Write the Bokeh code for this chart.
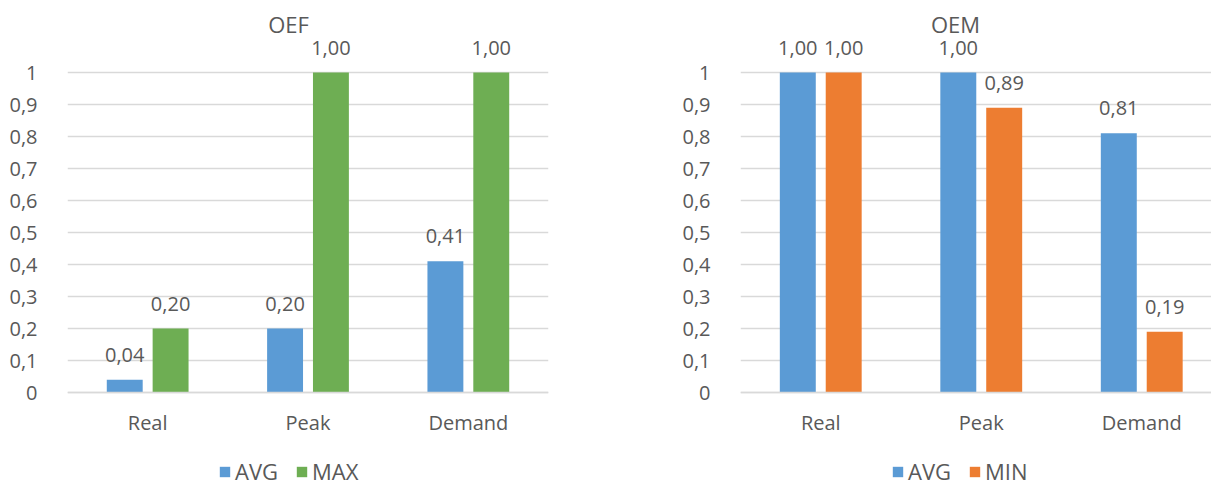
from bokeh.plotting import figure
from bokeh.layouts import row
from bokeh.models import Range1d, FixedTicker, Legend, LegendItem, Label
from bokeh.embed import file_html
from bokeh.resources import INLINE
from bokeh.core.properties import value

# Data
categories = ["Real", "Peak", "Demand"]
y_ticks = [0, 0.1, 0.2, 0.3, 0.4, 0.5, 0.6, 0.7, 0.8, 0.9, 1]

oef_title = "OEF"
oef_series = ["AVG", "MAX"]
oef_avg = [0.04, 0.20, 0.41]
oef_max = [0.20, 1.00, 1.00]

oem_title = "OEM"
oem_series = ["AVG", "MIN"]
oem_avg = [1.00, 1.00, 0.81]
oem_min = [1.00, 0.89, 0.19]

# Style
FONT = "Open Sans"
GREY = "#595959"
GRID = "#D9D9D9"
BLUE = "#5B9BD5"
GREEN = "#6EAE53"
ORANGE = "#ED7D31"

HEIGHT = 486
ZERO_Y = 392        # pixel row of the value 0
ONE_Y = 72          # pixel row of the value 1
BAR_W = 0.224
OFFSET = 0.143


def fmt(v):
    return f"{v:.2f}".replace(".", ",")


def tick_text(t):
    return f"{t:g}".replace(".", ",")


def make_chart(title, names, series, colors, width, border_left, border_right,
               x_end, title_x, legend_x):
    px_per_unit = ZERO_Y - ONE_Y
    y_end = 1 + ONE_Y / px_per_unit
    y_start = -(HEIGHT - ZERO_Y) / px_per_unit
    p = figure(width=width, height=HEIGHT,
               x_range=Range1d(-0.5, x_end), y_range=Range1d(y_start, y_end),
               output_backend="svg", toolbar_location=None,
               min_border_left=border_left, min_border_right=border_right,
               min_border_top=0, min_border_bottom=0)
    p.outline_line_color = None
    p.background_fill_color = "white"

    # chart title
    p.add_layout(Label(x=title_x, y=HEIGHT - 23, x_units="screen", y_units="screen",
                       text=title, text_align="center", text_baseline="alphabetic",
                       text_font=FONT, text_font_size="22px", text_color=GREY))

    idx = list(range(len(categories)))
    offsets = [-OFFSET, OFFSET]
    items = []
    for name, vals, color, off in zip(names, series, colors, offsets):
        xs = [i + off for i in idx]
        r = p.vbar(x=xs, top=vals, width=BAR_W, fill_color=color, line_color=None)
        p.text(x=xs, y=vals, text=[fmt(v) for v in vals],
               text_align="center", text_baseline="alphabetic", y_offset=-25,
               text_font=value(FONT), text_font_size="20px", text_color=GREY)
        items.append(LegendItem(label=name, renderers=[r]))

    # category axis sits on the zero line
    p.xaxis.fixed_location = 0
    p.xaxis.ticker = FixedTicker(ticks=idx)
    p.xaxis.major_label_overrides = {i: c for i, c in zip(idx, categories)}
    p.xaxis.axis_line_color = GRID
    p.xaxis.axis_line_width = 1.3
    p.xaxis.major_tick_line_color = None
    p.xaxis.minor_tick_line_color = None
    p.xaxis.major_label_standoff = 10
    p.xaxis.major_label_text_font = FONT
    p.xaxis.major_label_text_font_size = "20px"
    p.xaxis.major_label_text_color = GREY

    p.yaxis.ticker = FixedTicker(ticks=y_ticks)
    p.yaxis.major_label_overrides = {t: tick_text(t) for t in y_ticks}
    p.yaxis.axis_line_color = None
    p.yaxis.major_tick_line_color = None
    p.yaxis.minor_tick_line_color = None
    p.yaxis.major_label_standoff = 24
    p.yaxis.major_label_text_font = FONT
    p.yaxis.major_label_text_font_size = "20px"
    p.yaxis.major_label_text_color = GREY

    p.xgrid.grid_line_color = None
    p.ygrid.grid_line_color = GRID
    p.ygrid.grid_line_width = 1.3

    legend = Legend(items=items, orientation="horizontal",
                    location=(legend_x, 0))
    legend.glyph_width = 13
    legend.glyph_height = 13
    legend.label_standoff = 4
    legend.spacing = 17
    legend.padding = 0
    legend.margin = 0
    legend.border_line_color = None
    legend.background_fill_alpha = 0
    legend.label_text_font = FONT
    legend.label_text_font_size = "22px"
    legend.label_text_color = GREY
    p.add_layout(legend, "center")
    return p


left = make_chart(oef_title, oef_series, [oef_avg, oef_max], [BLUE, GREEN],
                  width=605, border_left=67, border_right=57,
                  x_end=2.5, title_x=288 - 67, legend_x=151)
right = make_chart(oem_title, oem_series, [oem_avg, oem_min], [BLUE, ORANGE],
                   width=606, border_left=135, border_right=0,
                   x_end=-0.5 + 471 / 160.5, title_x=955 - 740, legend_x=151)

layout = row(left, right)
open("out.html", "w").write(file_html(layout, INLINE))
